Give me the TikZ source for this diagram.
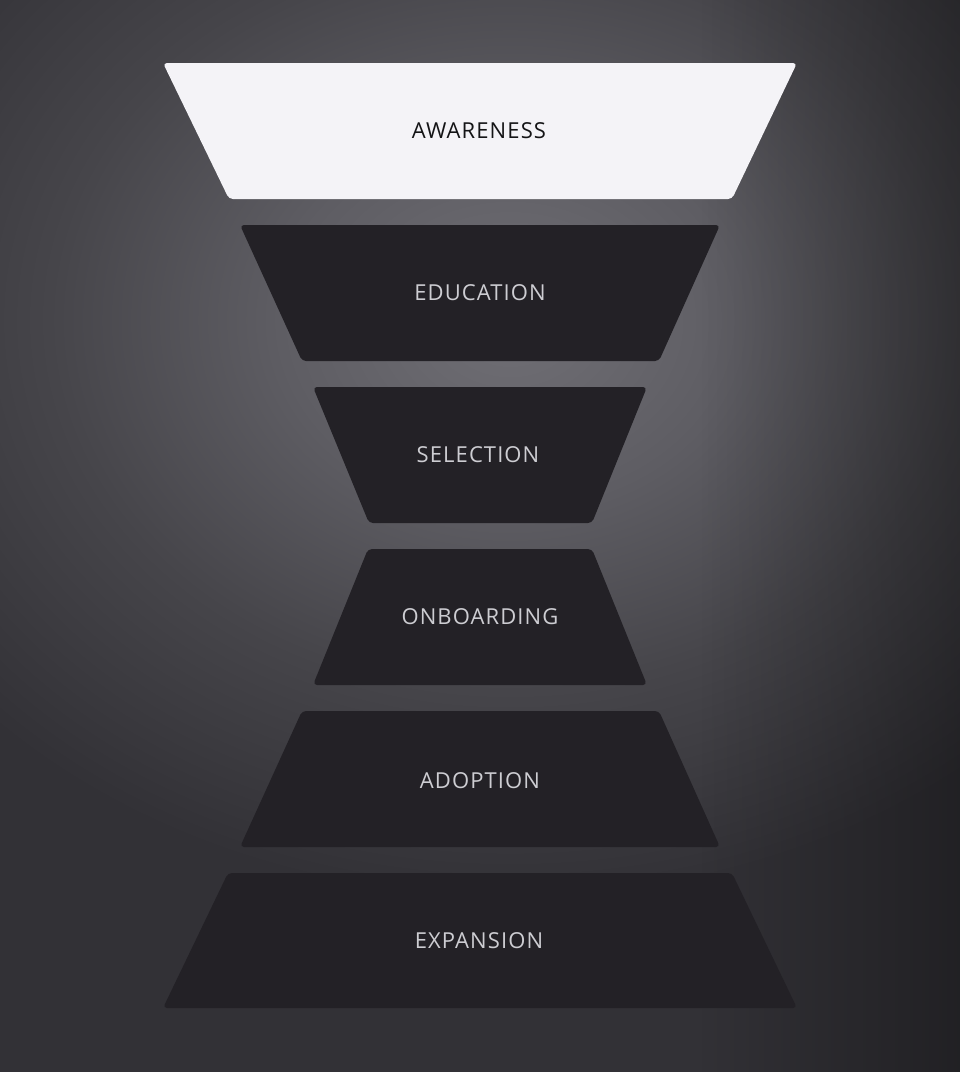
\documentclass[tikz,border=0pt]{standalone}
\usepackage{fontspec}
\usetikzlibrary{fadings}
\setmainfont{Open Sans}[LetterSpace=5]
\definecolor{bgdark}{RGB}{50,49,54}
\definecolor{bgmid}{RGB}{70,69,74}
\definecolor{bgmid2}{RGB}{94,93,99}
\definecolor{bglight}{RGB}{112,111,117}
\definecolor{stagedark}{RGB}{35,33,38}
\definecolor{stagelight}{RGB}{244,243,247}
\definecolor{textlight}{RGB}{205,205,210}
\definecolor{textdark}{RGB}{20,20,22}
\pgfdeclareradialshading{glow}{\pgfpoint{0bp}{0bp}}{%
  color(0bp)=(bglight); color(8bp)=(bgmid2); color(16bp)=(bgmid); color(25bp)=(bgdark); color(50bp)=(bgdark)}
\tikzfading[name=fadeR, left color=transparent!100, right color=transparent!0]
\begin{document}
\begin{tikzpicture}[x=1pt,y=-1pt,
  stageshape/.style={fill=stagedark, rounded corners=4pt},
  stagetop/.style={fill=stagelight, rounded corners=4pt},
  label/.style={text=textlight, font=\fontsize{22}{22}\selectfont, inner sep=0pt},
  labeltop/.style={label, text=textdark}]
\useasboundingbox (0,0) rectangle (960,1072);
\fill[bgdark] (0,0) rectangle (960,1072);
\begin{scope}
\clip (0,0) rectangle (960,1072);
\shade[shading=glow] (510,320) ellipse [x radius=720, y radius=580];
\fill[black, opacity=0.35, path fading=fadeR] (700,-20) rectangle (980,1092);
\end{scope}
% stages
\path[stagetop] (163,63) -- (797,63) -- (732,199) -- (229,199) -- cycle;
\path[stageshape] (240,225) -- (720,225) -- (659,361) -- (302,361) -- cycle;
\path[stageshape] (313,387) -- (647,387) -- (592,523) -- (369,523) -- cycle;
\path[stageshape] (368,549) -- (592,549) -- (647,685) -- (313,685) -- cycle;
\path[stageshape] (302,711) -- (659,711) -- (720,847) -- (240,847) -- cycle;
\path[stageshape] (228,873) -- (732,873) -- (797,1008) -- (163,1008) -- cycle;
\node[labeltop] (awareness) at (479,131) {AWARENESS};
\node[label] (education) at (480,293) {EDUCATION};
\node[label] (selection) at (478,455) {SELECTION};
\node[label] (onboarding) at (480,617) {ONBOARDING};
\node[label] (adoption) at (480,781) {ADOPTION};
\node[label] (expansion) at (479,941) {EXPANSION};
\end{tikzpicture}
\end{document}
